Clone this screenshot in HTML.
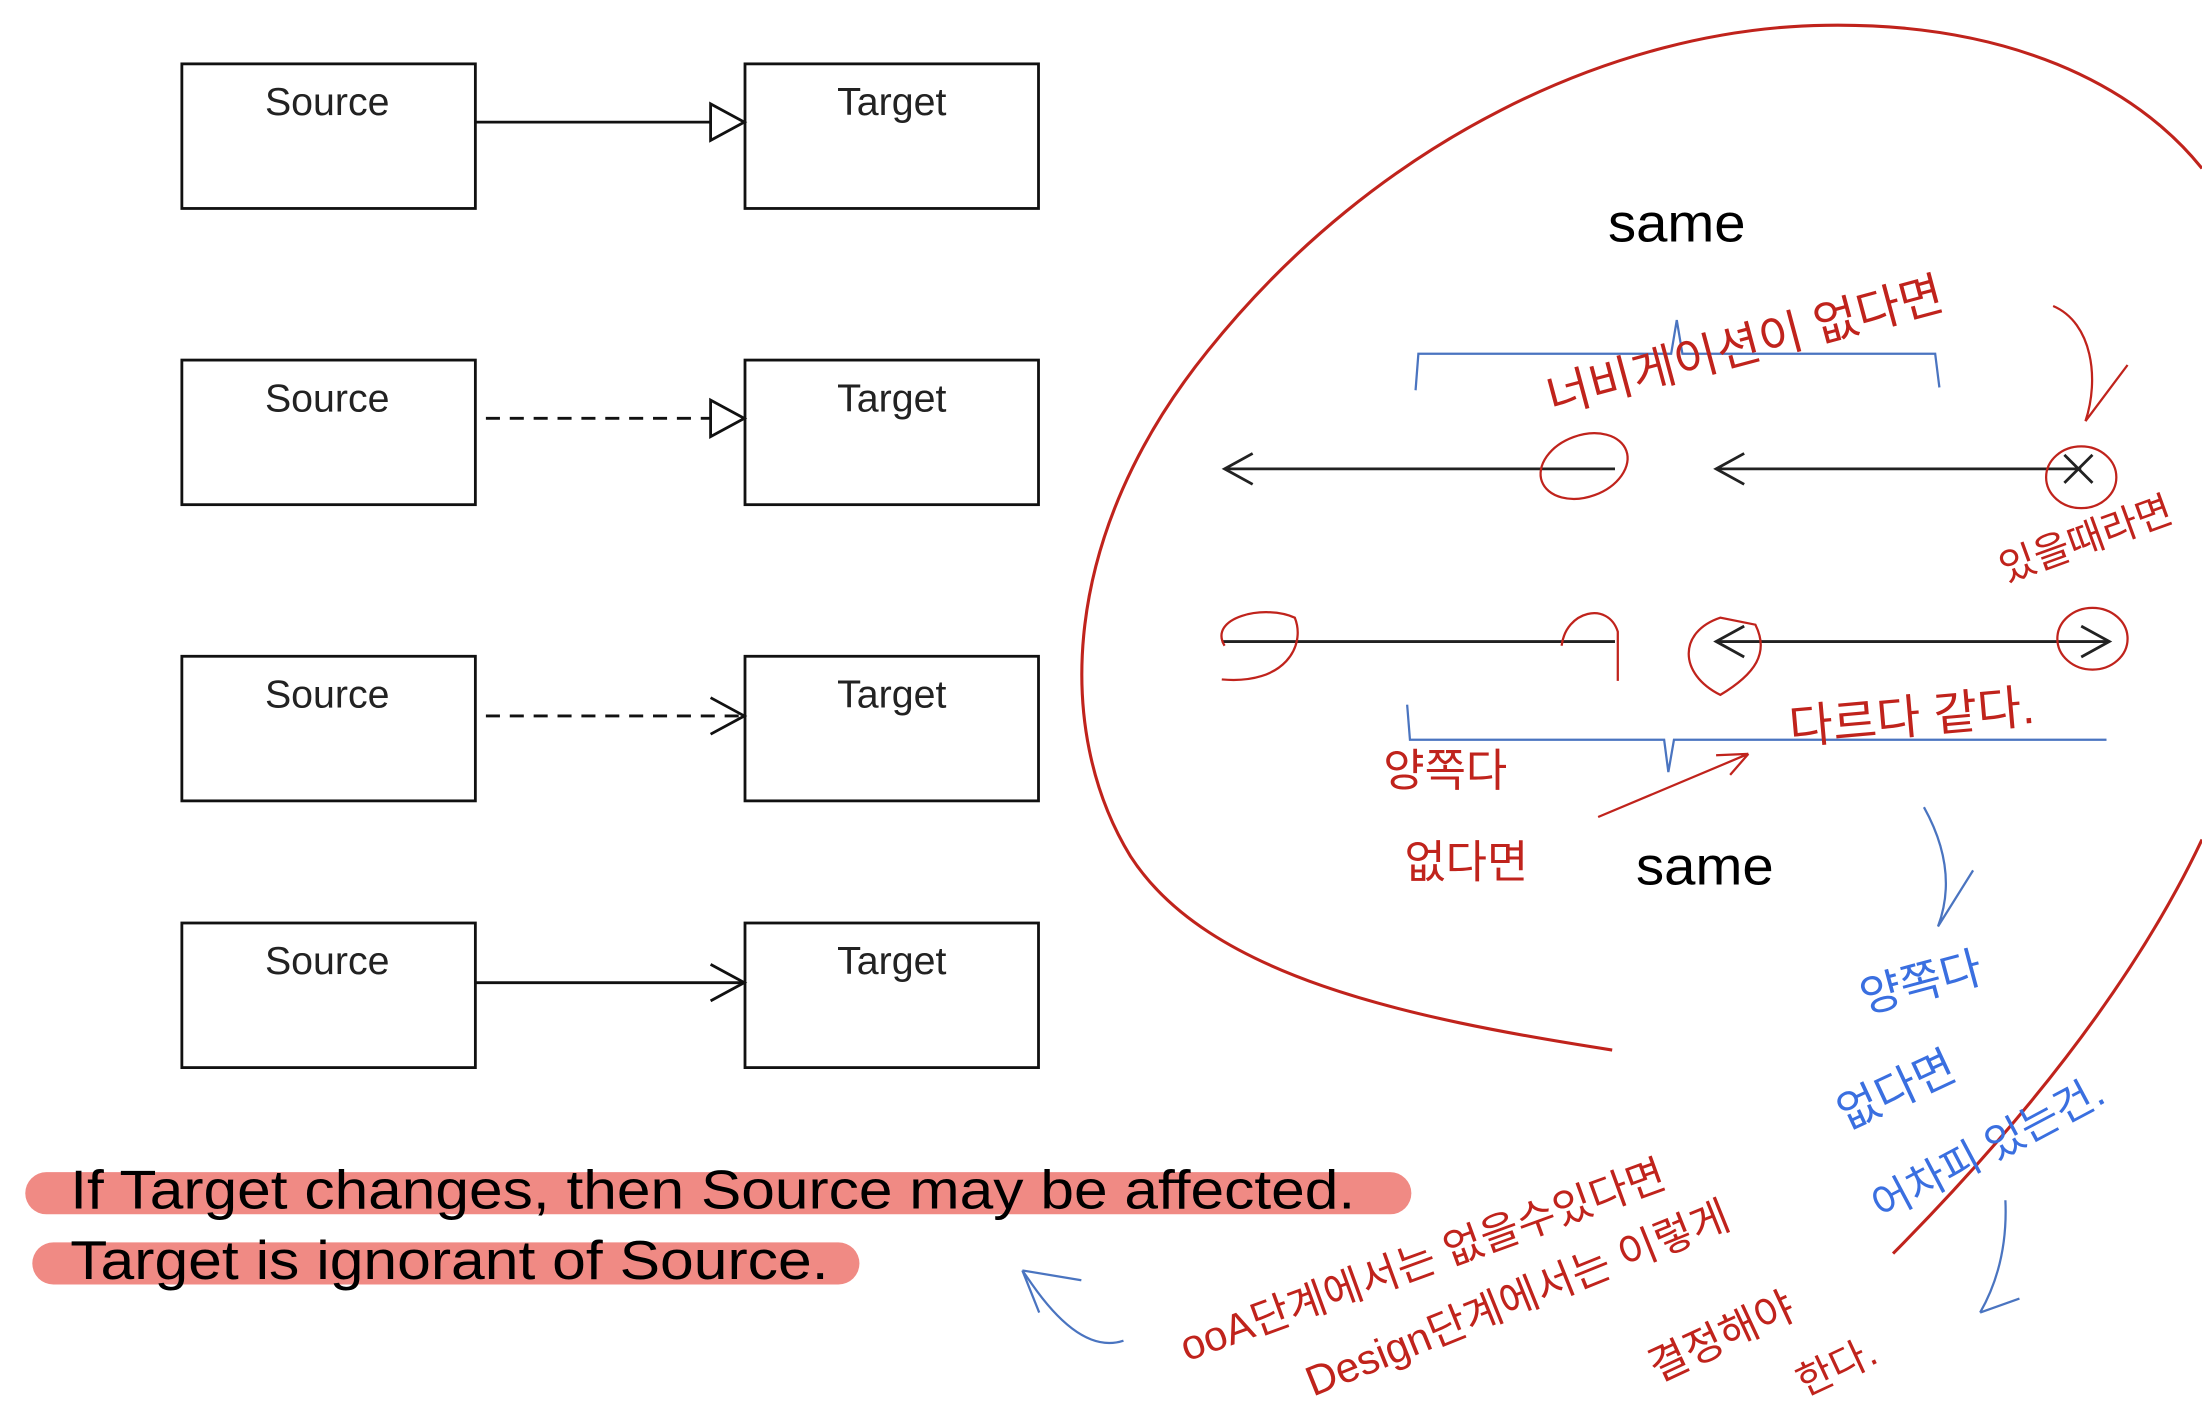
<!DOCTYPE html>
<html><head><meta charset="utf-8"><style>
html,body{margin:0;padding:0;background:#fff;}
svg{display:block;}
</style></head><body>
<svg width="2202" height="1401" viewBox="0 0 1568 998" preserveAspectRatio="none" xmlns="http://www.w3.org/2000/svg">
<rect width="1568" height="998" fill="#fff"/>
<g fill="none" stroke="#111" stroke-width="2">
<rect x="129.5" y="45.5" width="209" height="103"/>
<rect x="530.5" y="45.5" width="209" height="103"/>
<rect x="129.5" y="256.5" width="209" height="103"/>
<rect x="530.5" y="256.5" width="209" height="103"/>
<rect x="129.5" y="467.5" width="209" height="103"/>
<rect x="530.5" y="467.5" width="209" height="103"/>
<rect x="129.5" y="657.5" width="209" height="103"/>
<rect x="530.5" y="657.5" width="209" height="103"/>
<line x1="339" y1="87" x2="506" y2="87"/>
<path d="M506 74 L530 87 L506 100 Z"/>
<line x1="346" y1="298" x2="506" y2="298" stroke-dasharray="10,7"/>
<path d="M506 285 L530 298 L506 311 Z"/>
<line x1="346" y1="510" x2="530" y2="510" stroke-dasharray="10,7"/>
<path d="M506 497 L530 510 L506 523"/>
<line x1="339" y1="700" x2="530" y2="700"/>
<path d="M506 687 L530 700 L506 713"/>
</g>
<g font-family="Liberation Sans, sans-serif" font-size="28" fill="#222" text-anchor="middle">
<text x="233" y="82">Source</text><text x="635" y="82">Target</text>
<text x="233" y="293">Source</text><text x="635" y="293">Target</text>
<text x="233" y="504">Source</text><text x="635" y="504">Target</text>
<text x="233" y="694">Source</text><text x="635" y="694">Target</text>
</g>
<rect x="18" y="835" width="987" height="30" rx="15" fill="#f08a84"/>
<rect x="23" y="885" width="589" height="30" rx="15" fill="#f08a84"/>
<g font-family="Liberation Sans, sans-serif" font-size="39" fill="#000">
<text x="50" y="861" textLength="915" lengthAdjust="spacingAndGlyphs">If Target changes, then Source may be affected.</text>
<text x="50" y="911" textLength="540" lengthAdjust="spacingAndGlyphs">Target is ignorant of Source.</text>
<text x="1145" y="172" font-size="38" textLength="98" lengthAdjust="spacingAndGlyphs">same</text>
<text x="1165" y="630" font-size="38" textLength="98" lengthAdjust="spacingAndGlyphs">same</text>
</g>
<g fill="none" stroke="#222" stroke-width="2">
<line x1="872" y1="334" x2="1150" y2="334"/><path d="M892 323 L872 334 L892 345"/>
<line x1="1222" y1="334" x2="1482" y2="334"/><path d="M1242 323 L1222 334 L1242 345"/>
<path d="M1470 324 L1490 344 M1490 324 L1470 344"/>
<line x1="870" y1="457" x2="1150" y2="457"/>
<line x1="1222" y1="457" x2="1502" y2="457"/>
<path d="M1242 446 L1222 457 L1242 468"/><path d="M1482 446 L1502 457 L1482 468"/>
</g>
<g fill="none" stroke="#4a74c0" stroke-width="1.6">
<path d="M1008 278 L1010 252 L1190 252 L1194 228 L1198 252 L1378 252 L1381 276"/>
<path d="M1002 502 L1004 527 L1185 527 L1188 550 L1192 527 L1500 527"/>
<path d="M1370 575 Q1395 620 1380 660 M1380 660 L1405 620"/>
<path d="M800 955 Q770 965 735 915 L728 905 M728 905 L740 935 M728 905 L770 912"/>
<path d="M1428 855 Q1430 900 1410 935 M1410 935 L1438 925"/>
</g>
<g fill="none" stroke="#c0231c" stroke-width="2.2">
<path d="M1148 748 C1000 725 860 695 805 610 C750 520 755 380 860 250 C980 100 1150 20 1300 18 C1430 16 1520 60 1568 120"/>
<path d="M1568 598 C1520 700 1440 800 1348 893"/>
</g>
<g fill="none" stroke="#c0231c" stroke-width="1.6">
<ellipse cx="1128" cy="332" rx="32" ry="22" transform="rotate(-20 1128 332)"/>
<ellipse cx="1482" cy="340" rx="25" ry="22"/>
<path d="M872 460 C860 440 900 430 922 440 C930 460 915 488 870 484"/>
<path d="M1112 460 C1115 435 1145 428 1152 450 L1152 485"/>
<path d="M1225 440 C1195 450 1195 480 1225 495 C1250 480 1260 465 1250 445 Z"/>
<ellipse cx="1490" cy="455" rx="25" ry="22"/>
<path d="M1462 218 C1490 230 1495 270 1485 300 M1485 300 L1515 260"/>
<path d="M1138 582 L1245 537 M1245 537 L1222 538 M1245 537 L1232 552"/>
</g>
<g font-family="Liberation Sans, Noto Sans CJK KR, sans-serif" fill="#c0231c" font-size="34">
<text x="1105" y="295" transform="rotate(-15 1105 295)">너비게이션이 없다면</text>
<text x="1428" y="415" font-size="28" transform="rotate(-20 1428 415)">있을때라면</text>
<text x="985" y="560" font-size="32">양쪽다</text>
<text x="1275" y="530" font-size="34" transform="rotate(-5 1275 530)">다르다 같다.</text>
<text x="1000" y="625" font-size="32">없다면</text>
<text x="845" y="970" font-size="30" transform="rotate(-20 845 970)">ooA단계에서는 없을수있다면</text>
<text x="935" y="995" font-size="30" transform="rotate(-22 935 995)">Design단계에서는 이렇게</text>
<text x="1180" y="985" font-size="30" transform="rotate(-25 1180 985)">결정해야</text>
<text x="1285" y="995" font-size="28" transform="rotate(-25 1285 995)">한다.</text>
</g>
<g font-family="Liberation Sans, Noto Sans CJK KR, sans-serif" fill="#3a6fe0" font-size="32">
<text x="1328" y="722" transform="rotate(-15 1328 722)">양쪽다</text>
<text x="1315" y="805" transform="rotate(-25 1315 805)">없다면</text>
<text x="1340" y="870" font-size="30" transform="rotate(-28 1340 870)">어차피 있는건.</text>
</g>
</svg>
</body></html>
